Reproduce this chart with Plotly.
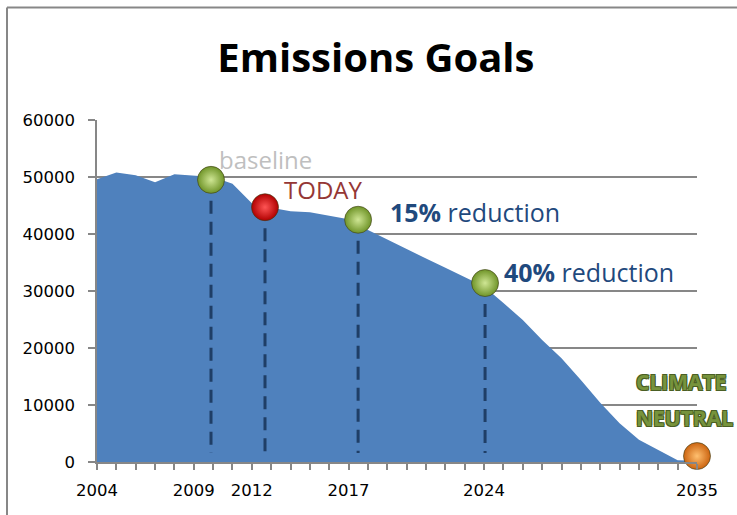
import plotly.graph_objects as go

# ---- data ----
years = list(range(2004, 2036))
emissions = [49600, 50800, 50300, 49100, 50500, 50200, 50000, 48800, 45400, 44600,
             44000, 43800, 43200, 42600, 40700, 39000, 37400, 35700, 34100, 32400,
             30800, 27900, 24900, 21400, 18200, 14400, 10400, 6800, 3900, 2100,
             300, 200]

tick_years = [2004, 2009, 2012, 2017, 2024, 2035]
tick_labels = ["2004", "2009", "2012", "2017", "2024", "2035"]

milestone_names = ["baseline", "TODAY", "15% reduction", "40% reduction", "CLIMATE NEUTRAL"]
milestone_x = [2009.89, 2012.68, 2017.49, 2024.05, 2035]
milestone_y = [49500, 44700, 42500, 31400, 1050]
milestone_outer = ["#6F9428", "#B00000", "#6F9428", "#6F9428", "#CC6410"]
milestone_center = ["#CFE694", "#FF5555", "#CFE694", "#CFE694", "#FFC070"]
dash_bottom = 1600

FONT = "Open Sans"
TICKFONT = "DejaVu Sans"
GRID = "#878787"

fig = go.Figure()

fig.add_trace(go.Scatter(
    x=years, y=emissions, mode="lines", fill="tozeroy",
    fillcolor="#4F81BD", line=dict(width=0, color="#4F81BD"),
    hoverinfo="skip", showlegend=False))

# dashed drop lines for the first four milestones
for i in range(4):
    fig.add_trace(go.Scatter(
        x=[milestone_x[i], milestone_x[i]], y=[milestone_y[i], dash_bottom],
        mode="lines", line=dict(color="#1F3E66", width=3, dash="13px,8px"),
        hoverinfo="skip", showlegend=False))

fig.add_trace(go.Scatter(
    x=milestone_x, y=milestone_y, mode="markers", cliponaxis=False,
    text=milestone_names,
    marker=dict(size=27, color=milestone_outer,
                gradient=dict(type="radial", color=milestone_center),
                line=dict(width=1, color="rgba(60,60,20,0.6)")),
    hoverinfo="text", showlegend=False))

annotations = [
    dict(x=2010.2, y=53100, text="baseline", xanchor="left", yanchor="middle",
         font=dict(family=FONT, size=24, color="#BFBFBF")),
    dict(x=2013.55, y=47800, text="TODAY", xanchor="left", yanchor="middle",
         font=dict(family=FONT, size=24, color="#953735")),
    dict(x=2019.05, y=43800, text="<b>15%</b> reduction", xanchor="left", yanchor="middle",
         font=dict(family=FONT, size=25, color="#1F497D")),
    dict(x=2024.95, y=33400, text="<b>40%</b> reduction", xanchor="left", yanchor="middle",
         font=dict(family=FONT, size=25, color="#1F497D")),
]
outline = ("-1px -1px 0 #4A5F24, 1px -1px 0 #4A5F24, -1px 1px 0 #4A5F24, 1px 1px 0 #4A5F24")
for txt, yy in [("CLIMATE", 14000), ("NEUTRAL", 7700)]:
    annotations.append(dict(x=2031.75, y=yy, text="<b>" + txt + "</b>", xanchor="left",
                            yanchor="middle",
                            font=dict(family=FONT, size=21, color="#77933C", shadow=outline)))
for a in annotations:
    a.update(xref="x", yref="y", showarrow=False)

fig.update_layout(
    width=737, height=515,
    margin=dict(l=97, r=40, t=120, b=53),
    paper_bgcolor="white", plot_bgcolor="white",
    title=dict(text="<b>Emissions Goals</b>", x=0.51, xanchor="center",
               y=0.887, yanchor="middle",
               font=dict(family=FONT, size=40, color="#000000")),
    annotations=annotations,
    shapes=[
        dict(type="line", xref="paper", yref="paper", x0=-0.15, x1=-0.15, y0=-0.3, y1=1.329,
             line=dict(color=GRID, width=2)),
        dict(type="line", xref="paper", yref="paper", x0=-0.15, x1=1.2, y0=1.329, y1=1.329,
             line=dict(color=GRID, width=2)),
    ],
)

fig.update_xaxes(
    range=[2004, 2035], tickvals=tick_years, ticktext=tick_labels,
    showgrid=False, zeroline=False, showline=True, linecolor=GRID, linewidth=1.5,
    ticks="outside", ticklen=6, tickcolor=GRID, tickwidth=1.5,
    minor=dict(ticks="outside", ticklen=6, tickcolor=GRID, tickwidth=1.5, dtick=1, tick0=2004,
               showgrid=False),
    tickfont=dict(family=TICKFONT, size=16.5, color="#000000"), ticklabelstandoff=6)

fig.update_yaxes(
    range=[0, 60000], tickvals=[0, 10000, 20000, 30000, 40000, 50000, 60000],
    ticktext=["0", "10000", "20000", "30000", "40000", "50000", "60000"],
    showgrid=True, gridcolor=GRID, gridwidth=1.5, zeroline=False,
    showline=True, linecolor=GRID, linewidth=1.5,
    ticks="outside", ticklen=7, tickcolor=GRID, tickwidth=1.5,
    tickfont=dict(family=TICKFONT, size=16.5, color="#000000"), ticklabelstandoff=10)

fig.write_html("out.html", config={"displayModeBar": False},
               post_script="document.body.style.margin='0';")
